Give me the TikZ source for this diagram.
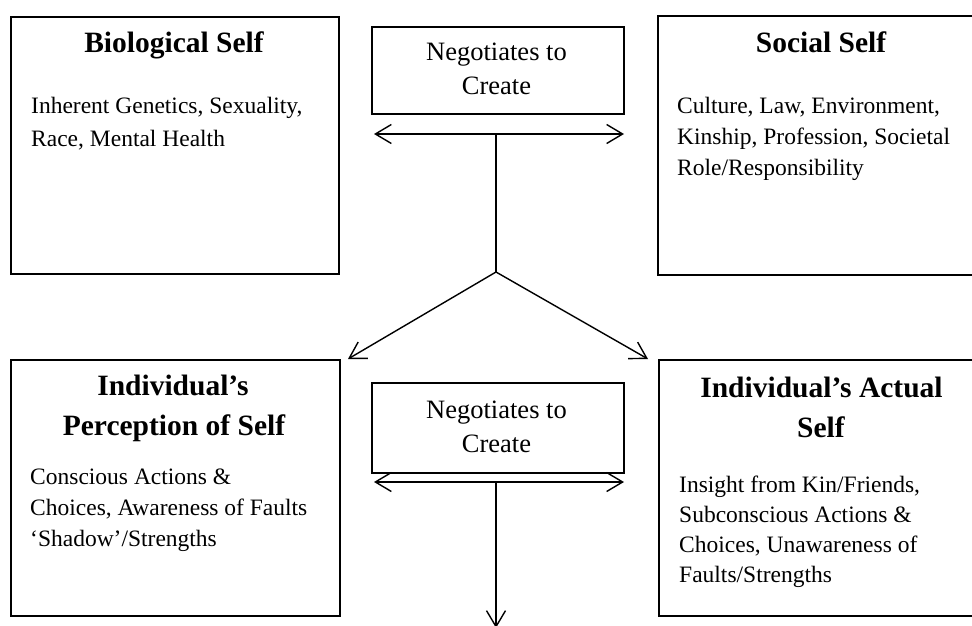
\documentclass[tikz,border=0pt]{standalone}
\usepackage{fontspec}
\setmainfont{Liberation Serif}
\usetikzlibrary{arrows.meta}
\begin{document}
\begin{tikzpicture}[x=1pt,y=-1pt,
  boxnode/.style={draw, line width=1.6pt, rectangle, inner sep=0pt, anchor=north west},
  titletext/.style={font=\fontsize{29.5}{36}\selectfont\bfseries, anchor=base, inner sep=0pt},
  bodytext/.style={font=\fontsize{23.5}{32}\selectfont, anchor=base west, inner sep=0pt},
  negtext/.style={font=\fontsize{26.5}{34}\selectfont, anchor=base, inner sep=0pt},
  conn/.style={line width=1.4pt},
  barb/.tip={Straight Barb[length=16pt,width=19pt]},
  arr/.style={conn, -barb},
  darr/.style={conn, barb-barb}
]
\useasboundingbox (0,0) rectangle (972,626);
\clip (0,0) rectangle (972,626);

% boxes
\node[boxnode, minimum width=328pt, minimum height=257pt] (bio) at (10,16) {};
\node[boxnode, minimum width=328pt, minimum height=259pt] (soc) at (657,15) {};
\node[boxnode, minimum width=252pt, minimum height=87pt] (neg1) at (371,26) {};
\node[boxnode, minimum width=329pt, minimum height=256pt] (perc) at (10,359) {};
\node[boxnode, minimum width=327pt, minimum height=256pt] (act) at (658,359) {};
\node[boxnode, minimum width=252pt, minimum height=90pt] (neg2) at (371,382) {};

% texts: Biological Self
\node[titletext] (biot) at (174,53) {Biological Self};
\node[bodytext] (bio1) at (31,113) {Inherent Genetics, Sexuality,};
\node[bodytext] (bio2) at (31,146) {Race, Mental Health};

% Social Self
\node[titletext] (soct) at (821,53) {Social Self};
\node[bodytext] (soc1) at (677,113) {Culture, Law, Environment,};
\node[bodytext] (soc2) at (677,144) {Kinship, Profession, Societal};
\node[bodytext] (soc3) at (677,175) {Role/Responsibility};

% Negotiates (top)
\node[negtext] (n1a) at (496.5,61) {Negotiates to};
\node[negtext] (n1b) at (496.5,95) {Create};

% Perception of Self
\node[titletext] (perct1) at (173,395) {Individual’s};
\node[titletext] (perct2) at (174,435) {Perception of Self};
\node[bodytext] (perc1) at (30,484) {Conscious Actions \&};
\node[bodytext] (perc2) at (30,515) {Choices, Awareness of Faults};
\node[bodytext] (perc3) at (30,546) {‘Shadow’/Strengths};

% Actual Self
\node[titletext] (actt1) at (821.5,397) {Individual’s Actual};
\node[titletext] (actt2) at (821,437) {Self};
\node[bodytext] (act1) at (679,492) {Insight from Kin/Friends,};
\node[bodytext] (act2) at (679,522) {Subconscious Actions \&};
\node[bodytext] (act3) at (679,552) {Choices, Unawareness of};
\node[bodytext] (act4) at (679,582) {Faults/Strengths};

% Negotiates (bottom)
\node[negtext] (n2a) at (496.5,418) {Negotiates to};
\node[negtext] (n2b) at (496.5,452) {Create};

% connector points
\coordinate (d1l) at (374,134);
\coordinate (d1r) at (624,134);
\coordinate (d1m) at (496,134);
\coordinate (fork) at (496,272);
\coordinate (tipl) at (348,359);
\coordinate (tipr) at (648,359);
\coordinate (d2l) at (374,482);
\coordinate (d2r) at (624,482);
\coordinate (d2m) at (496,482);
\coordinate (tipb) at (496,628);

\draw[darr] (d1l) -- (d1r);
\draw[conn] (d1m) -- (fork);
\draw[arr] (fork) -- (tipl);
\draw[arr] (fork) -- (tipr);
\draw[darr] (d2l) -- (d2r);
\draw[arr] (d2m) -- (tipb);
\end{tikzpicture}
\end{document}
